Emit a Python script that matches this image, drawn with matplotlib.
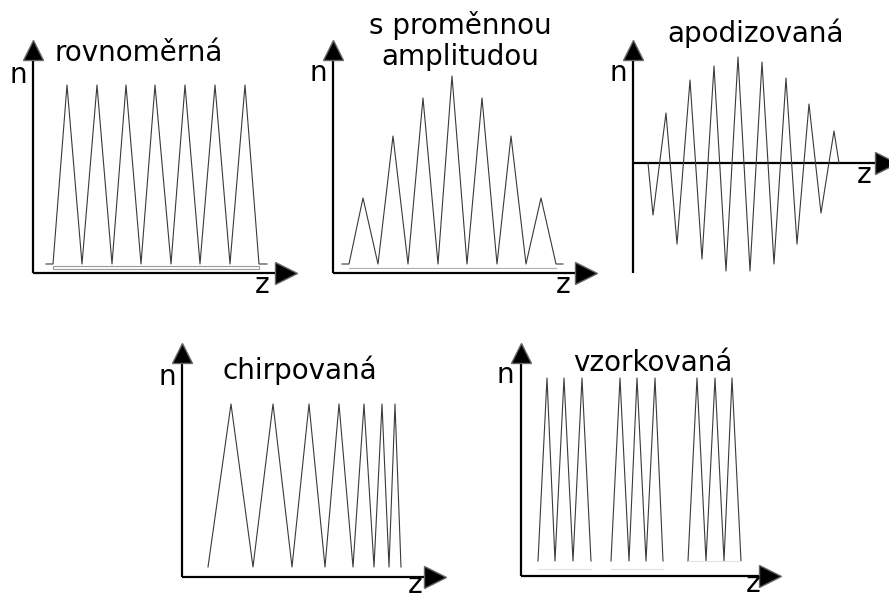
import matplotlib
matplotlib.use("Agg")
import matplotlib.pyplot as plt
import numpy as np

# =============================================================================
# Data (z position / n value, local units)
# =============================================================================

# rovnoměrná (uniform)
uni_z = [13, 20, 34, 49, 64, 79, 93, 108, 122, 138, 152, 167, 182, 197, 212, 226, 234]
uni_n = [9, 9, 188, 9, 188, 9, 188, 9, 188, 9, 188, 9, 188, 9, 188, 9, 9]

# s proměnnou amplitudou (variable amplitude)
amp_z = [9, 16, 30, 45, 60, 75, 90, 105, 119, 134, 149, 164, 178, 193, 208, 223, 230]
amp_n = [9, 9, 75, 9, 137, 9, 175, 9, 197, 9, 175, 9, 137, 9, 75, 9, 9]

# apodizovaná (apodized)
apo_z = [15, 20, 33, 44, 57, 69, 81, 93, 105, 117, 129, 141, 153, 164, 176, 188, 201, 206]
apo_n = [0, -52, 50, -81, 83, -96, 97, -108, 106, -108, 101, -101, 85, -81, 59, -50, 32, 0]

# chirpovaná (chirped)
chirp_z = [26, 49, 71, 91, 110, 127, 143, 157, 171, 182, 192, 200, 207, 213, 219]
chirp_n = [10, 173, 10, 173, 10, 173, 10, 173, 10, 173, 10, 173, 10, 173, 10]

# vzorkovaná (sampled) - three bursts
samp_z = [[17, 26, 34, 43, 52, 61, 70],
          [90, 99, 108, 116, 125, 134, 142],
          [167, 176, 185, 194, 203, 211, 220]]
samp_n = [15, 198, 15, 198, 15, 198, 15]

# =============================================================================
# Layout
# =============================================================================

W, H = 889, 597
fig = plt.figure(figsize=(W / 100, H / 100), dpi=100)

WAVE = dict(color="#3a3a3a", lw=0.8)
AXIS_LW = 1.6
FS = 20


def panel(ox, oy, y_min, y_max, x_max):
    """Axes covering the whole figure, local origin at pixel (ox, oy)."""
    ax = fig.add_axes([0, 0, 1, 1])
    ax.set_xlim(-ox, W - ox)
    ax.set_ylim(-(H - oy), oy)
    ax.axis("off")
    ax.patch.set_alpha(0)
    # axes lines
    ax.plot([0, 0], [y_min, y_max], color="black", lw=AXIS_LW, solid_capstyle="butt")
    ax.plot([0, x_max], [0, 0], color="black", lw=AXIS_LW, solid_capstyle="butt")
    ax.plot(0, y_max, marker="^", ms=14.5, mfc="black", mec="#666666", mew=1, clip_on=False)
    ax.plot(x_max, 0, marker=">", ms=15.5, mfc="black", mec="#666666", mew=1, clip_on=False)
    return ax


def labels(ax, title, tpos, npos, zpos, ha="center"):
    ax.text(*tpos, title, fontsize=FS, ha=ha, va="center", linespacing=1.15)
    ax.text(*npos, "n", fontsize=FS, ha="center", va="center")
    ax.text(*zpos, "z", fontsize=FS, ha="center", va="center")


# panel 1
ax1 = panel(33, 273, 0, 223, 253)
ax1.plot(uni_z, uni_n, **WAVE)
ax1.add_patch(plt.Rectangle((uni_z[1], 4), uni_z[-2] - uni_z[1], 3,
                            fill=False, ec="#9a9a9a", lw=0.8))
labels(ax1, "rovnoměrná", (21, 220), (-15, 198), (229, -12), ha="left")

# panel 2
ax2 = panel(333, 273, 0, 223, 253)
ax2.plot(amp_z, amp_n, **WAVE)
ax2.plot([amp_z[1], amp_z[-2]], [5, 5], color="#b0b0b0", lw=0.8)
labels(ax2, "s proměnnou\namplitudou", (127, 232), (-15, 200), (230, -12))

# panel 3
ax3 = panel(633, 163, -110, 113, 253)
ax3.plot(apo_z, apo_n, **WAVE)
labels(ax3, "apodizovaná", (123, 130), (-15, 90), (231, -12))

# panel 4
ax4 = panel(182, 577, 0, 224, 253)
ax4.plot(chirp_z, chirp_n, **WAVE)
labels(ax4, "chirpovaná", (118, 207), (-15, 200), (233, -8))

# panel 5
ax5 = panel(521, 576, 0, 223, 249)
for zs in samp_z:
    ax5.plot(zs, samp_n, **WAVE)
for zs in samp_z[:2]:
    ax5.plot([zs[0], zs[-1]], [7, 7], color="#e2e2e2", lw=0.8)
ax5.plot([samp_z[2][0], samp_z[2][-1]], [15, 15], color="#e2e2e2", lw=0.8)
labels(ax5, "vzorkovaná", (132, 213), (-16, 201), (232, -8))

fig.savefig("out.png", dpi=100, facecolor="white")
